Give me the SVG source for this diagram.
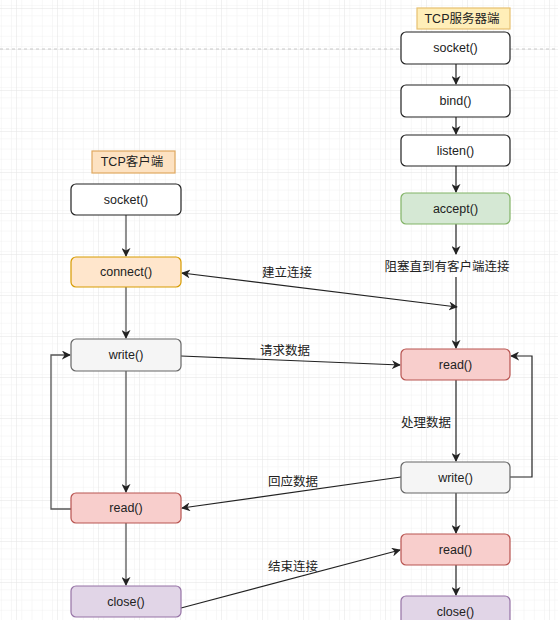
<svg xmlns="http://www.w3.org/2000/svg" width="558" height="620" viewBox="0 0 558 620">
<defs>
<pattern id="minor" x="-4" y="-2" width="10.25" height="10.25" patternUnits="userSpaceOnUse">
<path d="M10.25 0V10.25H0" fill="none" stroke="#f1f1f1" stroke-width="1"/>
</pattern>
<pattern id="major" x="16" y="8" width="41" height="41" patternUnits="userSpaceOnUse">
<rect width="41" height="41" fill="url(#minor)"/>
<path d="M0 0H41M0 0V41" fill="none" stroke="#e3e3e3" stroke-width="1"/>
</pattern>
<marker id="arr" viewBox="0 0 10 10" refX="9" refY="5" markerWidth="9" markerHeight="9" orient="auto-start-reverse" markerUnits="userSpaceOnUse">
<path d="M0 0L10 5L0 10L3 5Z" fill="#222"/>
</marker>
</defs>
<style>
.box{stroke-width:1.2}
.w{fill:#ffffff;stroke:#222}
.o{fill:#ffe6cc;stroke:#d79b00}
.g{fill:#d5e8d4;stroke:#82b366}
.r{fill:#f8cecc;stroke:#b85450}
.gr{fill:#f5f5f5;stroke:#666666}
.p{fill:#e1d5e7;stroke:#9673a6}
.lab{fill:#ffeeb8;stroke:#e6c070}
.lab2{fill:#fde2c2;stroke:#e0a860}
text{font-family:"Liberation Sans","Noto Sans CJK SC",sans-serif;font-size:12.5px;fill:#222;text-anchor:middle;dominant-baseline:central}
.e{fill:none;stroke:#222;stroke-width:1.2}
.eg{fill:none;stroke:#555;stroke-width:1.3}
</style>
<rect width="558" height="620" fill="#ffffff"/>
<rect width="558" height="620" fill="url(#major)"/>
<line x1="0" y1="49" x2="558" y2="49" stroke="#c8c8c8" stroke-width="1" stroke-dasharray="3 3"/>

<g id="edges">
<path class="e" d="M456 64V84" marker-end="url(#arr)"/>
<path class="e" d="M456 117V134" marker-end="url(#arr)"/>
<path class="e" d="M456 166V192" marker-end="url(#arr)"/>
<path class="e" d="M456 224V254" marker-end="url(#arr)"/>
<path class="e" d="M456 277V348" marker-end="url(#arr)"/>
<path class="e" d="M182 273L457 307" marker-start="url(#arr)" marker-end="url(#arr)"/>
<path class="e" d="M181 356L400 365" marker-end="url(#arr)"/>
<path class="e" d="M456 380V461" marker-end="url(#arr)"/>
<path class="e" d="M510 477H532V356H511" marker-end="url(#arr)"/>
<path class="e" d="M401 477L182 508" marker-end="url(#arr)"/>
<path class="e" d="M456 493V533" marker-end="url(#arr)"/>
<path class="e" d="M456 565V595" marker-end="url(#arr)"/>
<path class="e" d="M181 608L400 550" marker-end="url(#arr)"/>
<path class="eg" d="M126 215V256" marker-end="url(#arr)"/>
<path class="eg" d="M126 287V338" marker-end="url(#arr)"/>
<path class="eg" d="M126 371V492" marker-end="url(#arr)"/>
<path class="eg" d="M71 509H51V355H70" marker-end="url(#arr)"/>
<path class="eg" d="M126 523V585" marker-end="url(#arr)"/>
<text x="447" y="267">阻塞直到有客户端连接</text>
<text x="287" y="273">建立连接</text>
<text x="285" y="351">请求数据</text>
<text x="426" y="423">处理数据</text>
<text x="293" y="482">回应数据</text>
<text x="293" y="567">结束连接</text>
</g>

<g id="server-label"><rect class="box lab" x="417" y="8" width="93" height="21"/><text x="462" y="19">TCP服务器端</text></g>
<g id="server-socket"><rect class="box w" x="401" y="32" width="109" height="32" rx="5"/><text x="455.5" y="48">socket()</text></g>
<g id="server-bind"><rect class="box w" x="401" y="85" width="109" height="32" rx="5"/><text x="455.5" y="101">bind()</text></g>
<g id="server-listen"><rect class="box w" x="401" y="135" width="109" height="31" rx="5"/><text x="455.5" y="151">listen()</text></g>
<g id="server-accept"><rect class="box g" x="401" y="193" width="109" height="31" rx="5"/><text x="455.5" y="209">accept()</text></g>
<g id="server-read1"><rect class="box r" x="401" y="349" width="109" height="31" rx="5"/><text x="455.5" y="365">read()</text></g>
<g id="server-write"><rect class="box gr" x="401" y="462" width="109" height="31" rx="5"/><text x="455.5" y="478">write()</text></g>
<g id="server-read2"><rect class="box r" x="401" y="534" width="109" height="31" rx="5"/><text x="455.5" y="550">read()</text></g>
<g id="server-close"><rect class="box p" x="401" y="596" width="109" height="31" rx="5"/><text x="455.5" y="612">close()</text></g>

<g id="client-label"><rect class="box lab2" x="92" y="151" width="83" height="22"/><text x="132" y="162">TCP客户端</text></g>
<g id="client-socket"><rect class="box w" x="71" y="184" width="110" height="31" rx="5"/><text x="126" y="200">socket()</text></g>
<g id="client-connect"><rect class="box o" x="71" y="257" width="110" height="30" rx="5"/><text x="126" y="272">connect()</text></g>
<g id="client-write"><rect class="box gr" x="71" y="339" width="110" height="32" rx="5"/><text x="126" y="355">write()</text></g>
<g id="client-read"><rect class="box r" x="71" y="493" width="110" height="30" rx="5"/><text x="126" y="508">read()</text></g>
<g id="client-close"><rect class="box p" x="71" y="586" width="110" height="31" rx="5"/><text x="126" y="602">close()</text></g>
</svg>
